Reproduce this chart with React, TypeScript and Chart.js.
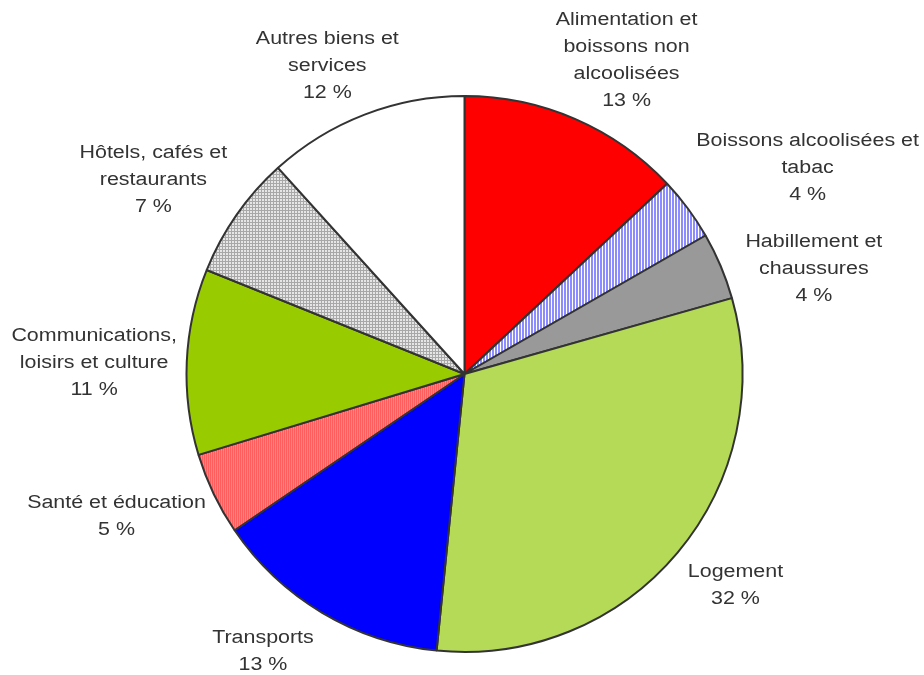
import React, { useEffect, useRef } from "react";
import { Chart, registerables } from "chart.js";

Chart.register(...registerables);

// Budget shares, clockwise from 12 o'clock
const categories = [
  "Alimentation et\nboissons non\nalcoolisées",
  "Boissons alcoolisées et\ntabac",
  "Habillement et\nchaussures",
  "Logement",
  "Transports",
  "Santé et éducation",
  "Communications,\nloisirs et culture",
  "Hôtels, cafés et\nrestaurants",
  "Autres biens et\nservices",
];
const shares = [13.0, 3.7, 3.9, 31.0, 13.9, 4.8, 10.8, 7.2, 11.7];
const shareLabels = ["13 %", "4 %", "4 %", "32 %", "13 %", "5 %", "11 %", "7 %", "12 %"];

// Layout tweaks for the outside labels (collision avoidance, as in the source)
const labelNudgeX = [14, 11, 8, 3, -21, 5, 14, -3, -3];
const labelNudgeY = [13, -2, 28, 0, -5, 1, 4, 2, 12];

const FONT = '18px "Liberation Sans", Arial, sans-serif';
const TEXT_SX = 1.19;
const LINE_H = 27;
const LABEL_OFF = 24;

function stripes(c1: string, c2: string, w1: number, period: number) {
  const cv = document.createElement("canvas");
  cv.width = period;
  cv.height = period;
  const g = cv.getContext("2d")!;
  g.fillStyle = c2;
  g.fillRect(0, 0, period, period);
  g.fillStyle = c1;
  g.fillRect(0, 0, w1, period);
  return g.createPattern(cv, "repeat")!;
}

function grid(bg: string, line: string, period: number) {
  const cv = document.createElement("canvas");
  cv.width = period;
  cv.height = period;
  const g = cv.getContext("2d")!;
  g.fillStyle = bg;
  g.fillRect(0, 0, period, period);
  g.fillStyle = line;
  g.fillRect(0, 0, 1, period);
  g.fillRect(0, 0, period, 1);
  return g.createPattern(cv, "repeat")!;
}

const labelPlugin = {
  id: "outsideLabels",
  afterDatasetsDraw(chart: any) {
    const ctx = chart.ctx as CanvasRenderingContext2D;
    const meta = chart.getDatasetMeta(0);
    ctx.save();
    ctx.font = FONT;
    ctx.fillStyle = "#333333";
    ctx.textAlign = "center";
    ctx.textBaseline = "middle";
    meta.data.forEach((arc: any, i: number) => {
      const p = arc.getProps(["x", "y", "startAngle", "endAngle", "outerRadius"], true);
      const a = (p.startAngle + p.endAngle) / 2;
      const lines = [...categories[i].split("\n"), shareLabels[i]];
      const w = Math.max(...lines.map((l) => ctx.measureText(l).width)) * TEXT_SX;
      const h = lines.length * LINE_H;
      const r = p.outerRadius + LABEL_OFF;
      const cx = p.x + r * Math.cos(a) + (w / 2) * Math.cos(a) + labelNudgeX[i];
      const cy = p.y + r * Math.sin(a) + (h / 2) * Math.sin(a) + labelNudgeY[i];
      lines.forEach((l, k) => {
        const ly = cy - h / 2 + LINE_H * (k + 0.5);
        ctx.save();
        ctx.translate(cx, ly);
        ctx.scale(TEXT_SX, 1);
        ctx.fillText(l, 0, 0);
        ctx.restore();
      });
    });
    ctx.restore();
  },
};

export default function App() {
  const ref = useRef<HTMLCanvasElement | null>(null);

  useEffect(() => {
    document.body.style.margin = "0";
    const canvas = ref.current!;
    const colors: any[] = [
      "#ff0000",
      stripes("#8c8cff", "#ffffff", 2, 3),
      "#999999",
      "#b4da58",
      "#0000ff",
      stripes("#ff5e5e", "#ff8282", 1, 2),
      "#99cc00",
      grid("#e6e6e6", "#a8a8a8", 3),
      "#ffffff",
    ];
    const chart = new Chart(canvas, {
      type: "pie",
      data: {
        labels: categories.map((c) => c.replace(/\n/g, " ")),
        datasets: [
          {
            data: shares,
            backgroundColor: colors,
            borderColor: "#333333",
            borderWidth: 2,
          },
        ],
      },
      options: {
        responsive: false,
        animation: false,
        devicePixelRatio: 1,
        layout: { padding: { top: 95, bottom: 22, left: 5, right: 0 } },
        plugins: {
          legend: { display: false },
          tooltip: { enabled: false },
        },
      },
      plugins: [labelPlugin],
    });
    return () => chart.destroy();
  }, []);

  return (
    <div style={{ width: 924, height: 675, background: "#ffffff" }}>
      <canvas ref={ref} width={924} height={675} />
    </div>
  );
}
